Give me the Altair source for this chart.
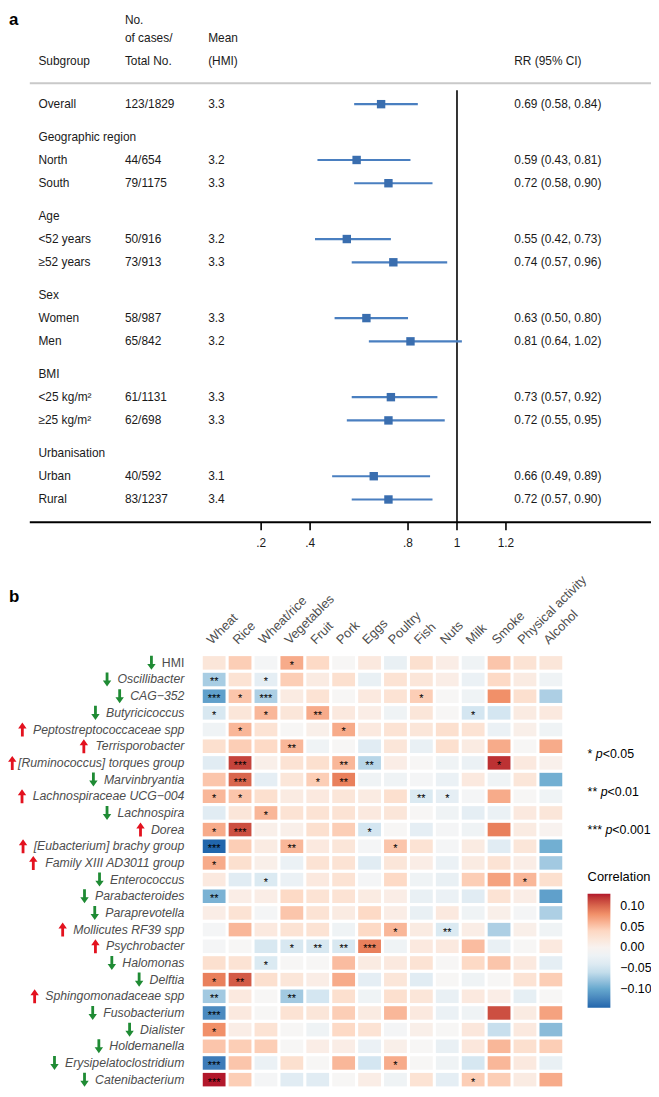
import altair as alt
import pandas as pd

# ---------------- panel a: forest plot data ----------------
subgroups = ["Overall", "Geographic region", "North", "South", "Age", "<52 years", "≥52 years",
             "Sex", "Women", "Men", "BMI", "<25 kg/m²", "≥25 kg/m²", "Urbanisation", "Urban", "Rural"]
cases = ["123/1829", "", "44/654", "79/1175", "", "50/916", "73/913", "", "58/987", "65/842",
         "", "61/1131", "62/698", "", "40/592", "83/1237"]
hmi_mean = ["3.3", "", "3.2", "3.3", "", "3.2", "3.3", "", "3.3", "3.2", "", "3.3", "3.3", "", "3.1", "3.4"]
rr = [0.69, None, 0.59, 0.72, None, 0.55, 0.74, None, 0.63, 0.81, None, 0.73, 0.72, None, 0.66, 0.72]
rr_low = [0.58, None, 0.43, 0.58, None, 0.42, 0.57, None, 0.50, 0.64, None, 0.57, 0.55, None, 0.49, 0.57]
rr_high = [0.84, None, 0.81, 0.90, None, 0.73, 0.96, None, 0.80, 1.02, None, 0.92, 0.95, None, 0.89, 0.90]
tick_values = [0.2, 0.4, 0.8, 1.0, 1.2]
tick_labels = [".2", ".4", ".8", "1", "1.2"]

# ---------------- panel b: heatmap data ----------------
foods = ["Wheat", "Rice", "Wheat/rice", "Vegetables", "Fruit", "Pork", "Eggs", "Poultry",
         "Fish", "Nuts", "Milk", "Smoke", "Physical activity", "Alcohol"]
taxa = ["HMI", "Oscillibacter", "CAG−352", "Butyricicoccus", "Peptostreptococcaceae spp",
        "Terrisporobacter", "[Ruminococcus] torques group", "Marvinbryantia",
        "Lachnospiraceae UCG−004", "Lachnospira", "Dorea", "[Eubacterium] brachy group",
        "Family XIII AD3011 group", "Enterococcus", "Parabacteroides", "Paraprevotella",
        "Mollicutes RF39 spp", "Psychrobacter", "Halomonas", "Delftia", "Sphingomonadaceae spp",
        "Fusobacterium", "Dialister", "Holdemanella", "Erysipelatoclostridium", "Catenibacterium"]
direction = ["down", "down", "down", "down", "up", "up", "up", "down", "up", "down", "up", "up", "up",
             "down", "down", "down", "up", "up", "down", "down", "up", "down", "down", "down", "down", "down"]
corr = [
    [0.02, 0.045, -0.012, 0.065, 0.038, -0.006, 0.015, -0.025, 0.03, 0.008, -0.018, 0.05, 0.025, 0.02],
    [-0.072, 0.025, -0.03, 0.045, 0.012, 0.03, -0.025, 0.025, 0.02, 0.008, -0.022, 0.038, 0.012, -0.018],
    [-0.105, 0.05, -0.07, 0.012, 0.025, -0.006, 0.015, 0.025, 0.045, -0.006, -0.018, 0.08, 0.03, -0.07],
    [-0.045, 0.02, 0.058, 0.02, 0.065, 0.015, 0.008, -0.018, 0.02, -0.006, -0.05, -0.05, 0.012, 0.015],
    [-0.018, 0.058, 0.025, -0.006, 0.005, 0.065, 0.015, 0.025, 0.02, 0.03, 0.025, -0.022, 0.005, -0.018],
    [0.03, 0.045, 0.038, 0.058, -0.018, -0.006, -0.035, 0.02, -0.025, 0.03, 0.012, 0.065, -0.006, 0.065],
    [-0.035, 0.115, 0.005, 0.025, 0.03, 0.058, -0.065, 0.008, -0.006, -0.018, -0.022, 0.122, 0.015, 0.003],
    [0.05, 0.1, -0.03, 0.02, 0.045, 0.088, -0.018, -0.018, -0.012, -0.022, 0.015, -0.018, 0.02, -0.095],
    [0.058, 0.05, 0.03, 0.012, 0.015, 0.02, 0.012, 0.03, -0.042, -0.03, -0.012, 0.065, -0.006, -0.018],
    [-0.035, 0.02, 0.058, 0.025, 0.025, 0.025, 0.015, 0.02, -0.006, -0.018, -0.03, -0.022, 0.015, 0.02],
    [0.065, 0.11, 0.005, 0.005, 0.03, 0.045, -0.05, -0.006, -0.03, -0.012, -0.018, 0.088, 0.012, 0.0],
    [-0.145, 0.045, 0.012, 0.058, 0.015, 0.02, -0.012, 0.05, 0.025, -0.012, 0.012, -0.035, 0.02, -0.095],
    [0.065, 0.03, 0.005, -0.022, 0.025, 0.025, -0.035, 0.02, 0.008, -0.022, 0.012, 0.025, 0.008, -0.075],
    [0.015, -0.035, -0.042, -0.022, 0.015, 0.025, -0.012, 0.038, -0.018, -0.025, 0.045, 0.07, 0.058, 0.03],
    [-0.092, 0.008, 0.008, 0.038, 0.025, 0.025, 0.012, 0.008, -0.025, -0.022, -0.035, 0.025, 0.008, -0.105],
    [0.008, 0.025, -0.012, 0.05, 0.025, 0.012, 0.038, 0.008, -0.025, 0.015, -0.018, 0.005, -0.012, -0.07],
    [-0.012, 0.058, 0.015, 0.025, 0.025, -0.018, 0.038, 0.058, 0.012, -0.042, 0.008, -0.07, 0.005, -0.018],
    [-0.012, -0.006, -0.045, -0.045, -0.045, -0.045, 0.088, -0.018, 0.015, 0.015, 0.055, -0.025, -0.006, 0.015],
    [0.03, 0.025, -0.042, -0.006, -0.006, 0.055, 0.012, 0.015, 0.025, -0.006, 0.038, 0.05, 0.015, -0.03],
    [0.088, 0.105, 0.03, 0.02, 0.008, 0.065, -0.03, 0.02, -0.035, -0.006, -0.018, -0.006, 0.025, 0.045],
    [-0.075, 0.015, -0.006, -0.075, -0.05, 0.03, -0.018, 0.03, 0.02, -0.025, 0.015, 0.008, -0.028, -0.006],
    [-0.12, 0.015, -0.006, 0.025, 0.02, 0.045, 0.012, 0.058, 0.015, -0.022, -0.018, 0.11, 0.012, 0.07],
    [0.08, 0.008, 0.025, -0.006, -0.018, 0.038, 0.025, -0.012, 0.005, -0.006, 0.018, -0.058, 0.015, -0.085],
    [0.05, 0.045, 0.045, -0.006, 0.008, 0.008, -0.022, 0.005, -0.006, -0.025, 0.018, 0.058, 0.03, 0.045],
    [-0.13, 0.05, -0.022, 0.03, -0.006, 0.058, -0.05, 0.065, -0.006, -0.018, -0.048, 0.058, 0.015, -0.025],
    [0.129, 0.045, -0.012, -0.035, -0.035, -0.006, 0.008, -0.018, 0.025, -0.03, 0.045, 0.045, 0.012, 0.065],
]
sig = [
    ["", "", "", "*", "", "", "", "", "", "", "", "", "", ""],
    ["**", "", "*", "", "", "", "", "", "", "", "", "", "", ""],
    ["***", "*", "***", "", "", "", "", "", "*", "", "", "", "", ""],
    ["*", "", "*", "", "**", "", "", "", "", "", "*", "", "", ""],
    ["", "*", "", "", "", "*", "", "", "", "", "", "", "", ""],
    ["", "", "", "**", "", "", "", "", "", "", "", "", "", ""],
    ["", "***", "", "", "", "**", "**", "", "", "", "", "*", "", ""],
    ["", "***", "", "", "*", "**", "", "", "", "", "", "", "", ""],
    ["*", "*", "", "", "", "", "", "", "**", "*", "", "", "", ""],
    ["", "", "*", "", "", "", "", "", "", "", "", "", "", ""],
    ["*", "***", "", "", "", "", "*", "", "", "", "", "", "", ""],
    ["***", "", "", "**", "", "", "", "*", "", "", "", "", "", ""],
    ["*", "", "", "", "", "", "", "", "", "", "", "", "", ""],
    ["", "", "*", "", "", "", "", "", "", "", "", "", "*", ""],
    ["**", "", "", "", "", "", "", "", "", "", "", "", "", ""],
    ["", "", "", "", "", "", "", "", "", "", "", "", "", ""],
    ["", "", "", "", "", "", "", "*", "", "**", "", "", "", ""],
    ["", "", "", "*", "**", "**", "***", "", "", "", "", "", "", ""],
    ["", "", "*", "", "", "", "", "", "", "", "", "", "", ""],
    ["*", "**", "", "", "", "", "", "", "", "", "", "", "", ""],
    ["**", "", "", "**", "", "", "", "", "", "", "", "", "", ""],
    ["***", "", "", "", "", "", "", "", "", "", "", "", "", ""],
    ["*", "", "", "", "", "", "", "", "", "", "", "", "", ""],
    ["", "", "", "", "", "", "", "", "", "", "", "", "", ""],
    ["***", "", "", "", "", "", "", "*", "", "", "", "", "", ""],
    ["***", "", "", "", "", "", "", "", "", "", "*", "", "", ""],
]
sig_levels = ["*", "**", "***"]
p_limits = ["<0.05", "<0.01", "<0.001"]
legend_values = [0.10, 0.05, 0.0, -0.05, -0.10]

# ---------------- styling / layout ----------------
FONT = "Liberation Sans"
TXT = "#1a1a1a"
AXT = "#4d4d4d"
W, H = 649, 1085

AW = {' ': 278, '[': 278, ']': 278, '(': 333, ')': 333, '-': 333, '−': 584, '.': 278, ',': 278,
      '/': 278, '*': 389, '<': 584,
      'A': 667, 'B': 667, 'C': 722, 'D': 722, 'E': 667, 'F': 611, 'G': 778, 'H': 722, 'I': 278,
      'J': 500, 'K': 667, 'L': 556, 'M': 833, 'N': 722, 'O': 778, 'P': 667, 'Q': 778, 'R': 722,
      'S': 667, 'T': 611, 'U': 722, 'V': 667, 'W': 944, 'X': 667, 'Y': 667, 'Z': 611,
      'a': 556, 'b': 556, 'c': 500, 'd': 556, 'e': 556, 'f': 278, 'g': 556, 'h': 556, 'i': 222,
      'j': 222, 'k': 500, 'l': 222, 'm': 833, 'n': 556, 'o': 556, 'p': 556, 'q': 556, 'r': 333,
      's': 500, 't': 278, 'u': 556, 'v': 500, 'w': 722, 'x': 500, 'y': 500, 'z': 500}


def tw(s, size):
    return sum(AW.get(c, 556) for c in s) * size / 1000.0


def label(text, x, y, size=12, weight="normal", style="normal", color=TXT, align="left"):
    return alt.Chart(pd.DataFrame({"t": [text]})).mark_text(
        align=align, baseline="middle", fontSize=size, fontWeight=weight, fontStyle=style,
        font=FONT, color=color).encode(text="t:N", x=alt.value(x), y=alt.value(y))


def hline(x1, x2, y, color, width):
    return alt.Chart(pd.DataFrame({"a": [0]})).mark_rule(color=color, strokeWidth=width).encode(
        x=alt.value(x1), x2=alt.value(x2), y=alt.value(y))


# forest row positions (group headers get extra space)
pos, p = [], 0.0
for i, c in enumerate(cases):
    if i > 0:
        p += 1.4 if c == "" else 1.0
    pos.append(p)

fdf = pd.DataFrame({"sub": subgroups, "cases": cases, "mean": hmi_mean, "rr": rr,
                    "lo": rr_low, "hi": rr_high, "pos": pos})
fdf["rrtxt"] = [("%.2f (%.2f, %.2f)" % (a, b, c)) if a is not None else ""
                for a, b, c in zip(rr, rr_low, rr_high)]
est = fdf[fdf["cases"] != ""].copy()

FY = alt.Scale(domain=[0, 17], range=[92, 491], nice=False, zero=False)
FX = alt.Scale(domain=[0.2, 1.2], range=[255.5, 502.6], nice=False, zero=False)

layers = []
# panel letters and header
layers.append(label("a", 1, 7, size=17, weight="bold", color="black"))
layers.append(label("No.", 118, 7))
layers.append(label("of cases/", 118, 25))
layers.append(label("Mean", 202, 25))
for t, x in [("Subgroup", 30.7), ("Total No.", 118), ("(HMI)", 202), ("RR (95% CI)", 511)]:
    layers.append(label(t, x, 48))
layers.append(hline(22, W, 71, "#c9c9c9", 2))

fy = alt.Y("pos:Q", scale=FY, axis=None)
for field, x in [("sub", 30.7), ("cases", 118), ("mean", 202), ("rrtxt", 511)]:
    layers.append(alt.Chart(fdf).mark_text(align="left", baseline="middle", fontSize=12,
                                           font=FONT, color=TXT).encode(
        x=alt.value(x), y=fy, text=f"{field}:N"))

# reference line at RR = 1
layers.append(alt.Chart(pd.DataFrame({"v": [1.0]})).mark_rule(color="black", strokeWidth=1.6).encode(
    x=alt.X("v:Q", scale=FX, axis=None), y=alt.value(78), y2=alt.value(514)))
# CI and point estimates
layers.append(alt.Chart(est).mark_rule(color="#4a7fc0", strokeWidth=2.2).encode(
    x=alt.X("lo:Q", scale=FX, axis=None), x2="hi:Q", y=fy))
layers.append(alt.Chart(est).mark_square(color="#3a6eaf", size=72, opacity=1).encode(
    x=alt.X("rr:Q", scale=FX, axis=None), y=fy))
# x axis
layers.append(hline(22, W, 514, "black", 2))
tdf = pd.DataFrame({"v": tick_values, "lab": tick_labels})
layers.append(alt.Chart(tdf).mark_rule(color="black", strokeWidth=1.6).encode(
    x=alt.X("v:Q", scale=FX, axis=None), y=alt.value(514), y2=alt.value(522)))
layers.append(alt.Chart(tdf).mark_text(fontSize=12, font=FONT, color=TXT, baseline="middle").encode(
    x=alt.X("v:Q", scale=FX, axis=None), y=alt.value(535), text="lab:N"))

# ---------------- panel b ----------------
layers.append(label("b", 1, 589, size=17, weight="bold", color="black"))

rows = []
for i, t in enumerate(taxa):
    for j, f in enumerate(foods):
        rows.append({"taxon": t, "food": f, "r": corr[i][j], "sig": sig[i][j]})
hdf = pd.DataFrame(rows)

HX = alt.Scale(domain=foods, range=[195, 561], paddingInner=0.12, paddingOuter=0.06)
HY = alt.Scale(domain=taxa, range=[647.5, 1085], paddingInner=0.19, paddingOuter=0.095)
hx = alt.X("food:N", scale=HX, axis=None)
hy = alt.Y("taxon:N", scale=HY, axis=None)

CMIN, CMAX = -0.145, 0.129
CS = alt.Scale(domain=[CMIN, -0.0993, -0.0537, -0.008, 0.0377, 0.0833, CMAX],
               range=["#2166ac", "#67a9cf", "#d1e5f0", "#f7f7f7", "#fddbc7", "#ef8a62", "#b2182b"],
               interpolate="lab")

LEGX, LEGY = 585, 866
GTOP, GLEN = LEGY + 18, 115
layers.append(alt.Chart(hdf).mark_rect().encode(
    x=hx, y=hy,
    color=alt.Color("r:Q", scale=CS, legend=alt.Legend(
        title="Correlation", orient="none", legendX=LEGX, legendY=LEGY, direction="vertical",
        gradientLength=GLEN, gradientThickness=23, values=legend_values,
        labelExpr="replace(format(datum.value, '.2f'), '-', '−')",
        titleFont=FONT, titleFontSize=13, titleFontWeight="normal", titleColor="black",
        titlePadding=10, labelFont=FONT, labelFontSize=12.5, labelColor="black", labelOffset=10,
        gradientStrokeWidth=0))))
layers.append(alt.Chart(hdf[hdf["sig"] != ""]).mark_text(
    fontSize=11, font=FONT, color="black", dy=3, baseline="middle").encode(x=hx, y=hy, text="sig:N"))

# white tick marks on the colour bar
gdf = pd.DataFrame({"v": legend_values})
GY = alt.Y("v:Q", scale=alt.Scale(domain=[CMIN, CMAX], range=[GTOP + GLEN, GTOP], nice=False, zero=False),
           axis=None)
for xa, xb in [(LEGX, LEGX + 5), (LEGX + 17, LEGX + 23)]:
    layers.append(alt.Chart(gdf).mark_rule(color="white", strokeWidth=1, opacity=0.85).encode(
        x=alt.value(xa), x2=alt.value(xb), y=GY))

# column labels
layers.append(alt.Chart(pd.DataFrame({"food": foods})).mark_text(
    angle=315, align="left", baseline="bottom", fontSize=13, font=FONT, color=AXT).encode(
    x=hx, y=alt.value(640), text="food:N"))

# row labels
LS = 12.4
tdf2 = pd.DataFrame({"taxon": taxa, "dir": direction})
tdf2["ax"] = [max(178 - tw(t, LS) - 10.5, 4.3) for t in taxa]
layers.append(alt.Chart(tdf2[tdf2["taxon"] == "HMI"]).mark_text(
    align="right", baseline="middle", fontSize=LS, font=FONT, color=AXT).encode(
    x=alt.value(178), y=hy, text="taxon:N"))
layers.append(alt.Chart(tdf2[tdf2["taxon"] != "HMI"]).mark_text(
    align="right", baseline="middle", fontSize=LS, font=FONT, fontStyle="italic", color=AXT).encode(
    x=alt.value(178), y=hy, text="taxon:N"))

DOWN = "M-0.2,-1L0.2,-1L0.2,0.15L0.6,0.15L0,1L-0.6,0.15L-0.2,0.15Z"
UP = "M-0.2,1L0.2,1L0.2,-0.15L0.6,-0.15L0,-1L-0.6,-0.15L-0.2,-0.15Z"
layers.append(alt.Chart(tdf2[tdf2["dir"] == "down"]).mark_point(
    shape=DOWN, filled=True, size=200, color="#1f8b34", opacity=1, strokeWidth=0).encode(
    x=alt.X("ax:Q", scale=None, axis=None), y=hy))
layers.append(alt.Chart(tdf2[tdf2["dir"] == "up"]).mark_point(
    shape=UP, filled=True, size=200, color="#e3121f", opacity=1, strokeWidth=0).encode(
    x=alt.X("ax:Q", scale=None, axis=None), y=hy))

# significance key
LF = 12.5
kdf = pd.DataFrame({"stars": sig_levels, "plim": p_limits, "i": [0, 1, 2]})
kdf["xp"] = [585 + tw(s + " ", LF) for s in sig_levels]
kdf["xr"] = kdf["xp"] + tw("p", LF)
KY = alt.Y("i:Q", scale=alt.Scale(domain=[0, 2], range=[748, 825], nice=False, zero=False), axis=None)
layers.append(alt.Chart(kdf).mark_text(align="left", baseline="middle", fontSize=LF, font=FONT,
                                       color="black").encode(x=alt.value(585), y=KY, text="stars:N"))
layers.append(alt.Chart(kdf).mark_text(align="left", baseline="middle", fontSize=LF, font=FONT,
                                       fontStyle="italic", color="black").encode(
    x=alt.X("xp:Q", scale=None, axis=None), y=KY, text=alt.value("p")))
layers.append(alt.Chart(kdf).mark_text(align="left", baseline="middle", fontSize=LF, font=FONT,
                                       color="black").encode(
    x=alt.X("xr:Q", scale=None, axis=None), y=KY, text="plim:N"))

chart = alt.layer(*layers).resolve_scale(
    x="independent", y="independent", color="independent"
).properties(
    width=W, height=H, padding=0, autosize=alt.AutoSizeParams(type="none")
).configure_view(stroke=None)

chart.save("out.html", embed_options={"renderer": "svg", "actions": False})
